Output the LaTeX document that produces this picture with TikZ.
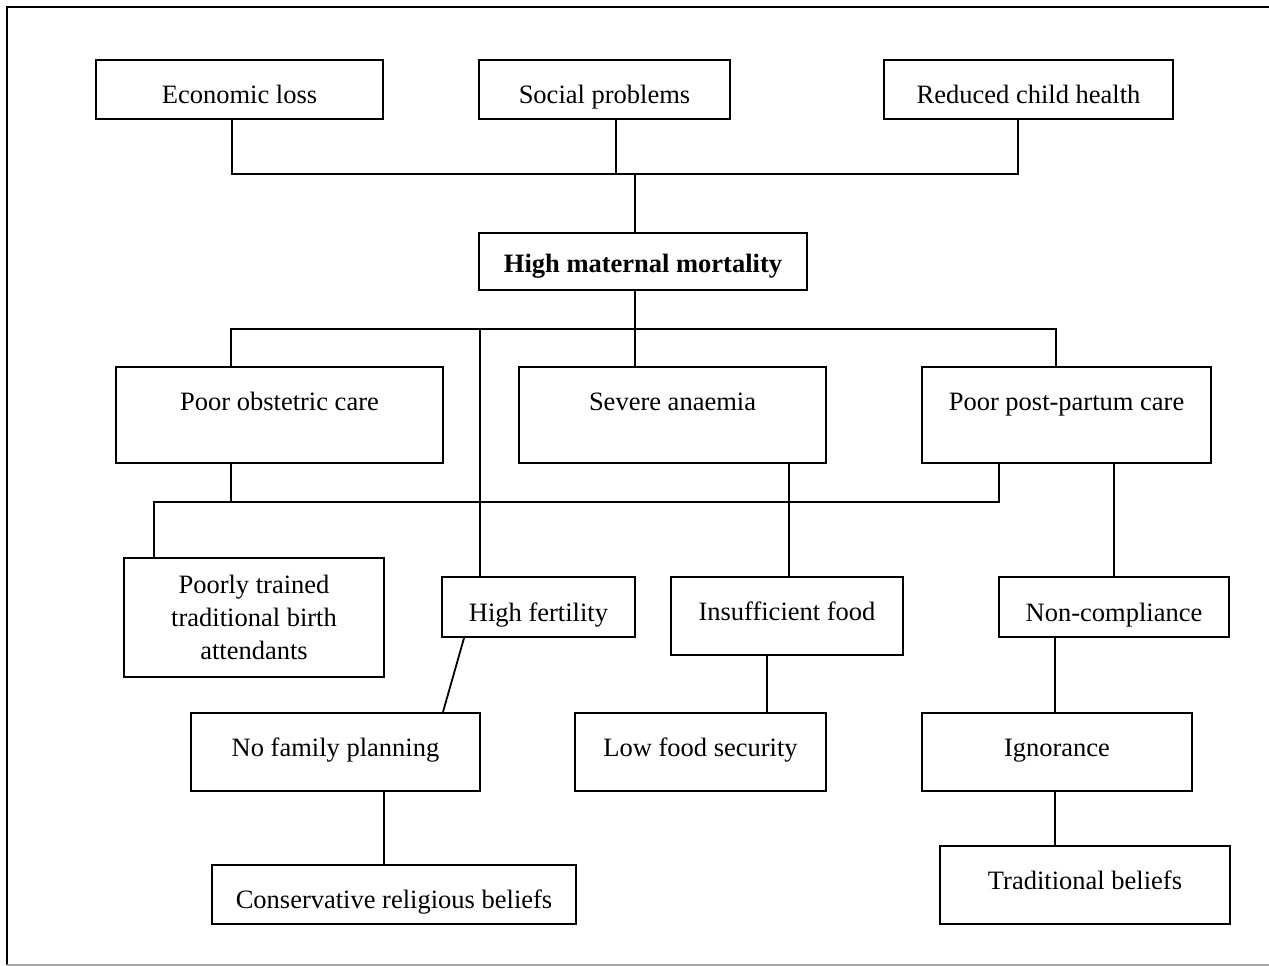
\documentclass[tikz,border=0pt]{standalone}
\usepackage{fontspec}
\setmainfont{Liberation Serif}
\usepackage{tikz}
\tikzstyle{box} = [rectangle, draw=black, line width=2.2pt, inner sep=0pt, text centered]
\tikzstyle{low} = [box, text height=34pt, text depth=6pt]
\tikzstyle{mid} = [box, text height=18pt, text depth=10pt]
\tikzstyle{high} = [box, text height=18pt, text depth=28pt]
\tikzstyle{line} = [line width=1.8pt]

\begin{document}
\begin{tikzpicture}[x=1pt, y=-1pt, font=\fontsize{26.5}{33}\selectfont]
        \useasboundingbox (0,0) rectangle (1269,966);
        \draw [line width=2.2pt] (1269,7) -- (7,7) -- (7,965);
        \draw [line width=1.2pt, black!35] (7,965) -- (1269,965);

        \node (econ) [low, minimum width=287pt, minimum height=59pt] at (239.5,89.5) {Economic loss};
        \node (social) [low, minimum width=251pt, minimum height=59pt] at (604.5,89.5) {Social problems};
        \node (child) [low, minimum width=289pt, minimum height=59pt] at (1028.5,89.5) {Reduced child health};
        \node (hmm) [box, text height=27pt, text depth=6pt, minimum width=328pt, minimum height=57pt, font=\fontsize{26.5}{33}\selectfont\bfseries] at (643,261.5) {High maternal mortality};

        \node (poc) [high, minimum width=327pt, minimum height=96pt] at (279.5,415) {Poor obstetric care};
        \node (sa) [high, minimum width=307pt, minimum height=96pt] at (672.5,415) {Severe anaemia};
        \node (ppc) [high, minimum width=289pt, minimum height=96pt] at (1066.5,415) {Poor post-partum care};

        \node (ptt) [box, align=center, minimum width=260pt, minimum height=119pt] at (254,617.5) {Poorly trained\\traditional birth\\attendants};
        \node (hf) [low, minimum width=193pt, minimum height=60pt] at (538.5,607) {High fertility};
        \node (isf) [mid, minimum width=232pt, minimum height=78pt] at (787,616) {Insufficient food};
        \node (nc) [low, minimum width=230pt, minimum height=60pt] at (1114,607) {Non-compliance};

        \node (nfp) [mid, minimum width=289pt, minimum height=78pt] at (335.5,752) {No family planning};
        \node (lfs) [mid, minimum width=251pt, minimum height=78pt] at (700.5,752) {Low food security};
        \node (ign) [mid, minimum width=270pt, minimum height=78pt] at (1057,752) {Ignorance};

        \node (crb) [low, minimum width=364pt, minimum height=59pt] at (394,894.5) {Conservative religious beliefs};
        \node (tb) [mid, minimum width=290pt, minimum height=78pt] at (1085,885) {Traditional beliefs};

        \coordinate (j1) at (635,174);
        \coordinate (j2) at (635,329);
        \coordinate (j3) at (154,502);
        \coordinate (j4) at (999,502);

        \draw [line] ([xshift=-7.5pt]econ.south) |- (j1) -| ([xshift=-10.5pt]child.south);
        \draw [line] ([xshift=11.5pt]social.south) |- (j1);
        \draw [line] (j1) -- ([xshift=-8pt]hmm.north);

        \draw [line] ([xshift=-48.5pt]poc.north) |- (j2) -| ([xshift=-10.5pt]ppc.north);
        \draw [line] ([xshift=-8pt]hmm.south) -- ([xshift=-37.5pt]sa.north);
        \draw [line] ([xshift=-58.5pt]hf.north) |- (j2);

        \draw [line] ([xshift=-100pt]ptt.north) -- (j3) -- (j4) -- ([xshift=-67.5pt]ppc.south);
        \draw [line] ([xshift=-48.5pt]poc.south) |- (j4);
        \draw [line] ([xshift=116.5pt]sa.south) -- ([xshift=2pt]isf.north);
        \draw [line] ([xshift=47.5pt]ppc.south) -- (nc.north);

        \draw [line] ([xshift=-74.5pt]hf.south) -- ([xshift=107.5pt]nfp.north);
        \draw [line] ([xshift=-20pt]isf.south) -- ([xshift=66.5pt]lfs.north);
        \draw [line] ([xshift=-59pt]nc.south) -- ([xshift=-2pt]ign.north);

        \draw [line] ([xshift=48.5pt]nfp.south) -- ([xshift=-10pt]crb.north);
        \draw [line] ([xshift=-2pt]ign.south) -- ([xshift=-30pt]tb.north);
    \end{tikzpicture}
\end{document}
